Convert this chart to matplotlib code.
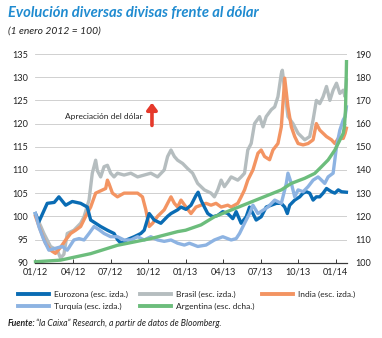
import matplotlib
matplotlib.use("Agg")
import matplotlib.pyplot as plt
from matplotlib.lines import Line2D

plt.rcParams["font.family"] = ["Lato", "DejaVu Sans"]

# meses desde 01/2012 (0 = 1 enero 2012)
eur_mes = [0, 0.27, 0.94, 1.5, 1.87, 2.41, 2.94, 3.61, 4.14, 4.41, 5.21, 5.75, 6.28, 6.55,
           6.82, 7.35, 7.89, 8.42, 8.69, 9.09, 9.49, 10.02, 10.56, 10.83, 11.36, 11.63,
           12.03, 12.43, 12.83, 13.0, 13.23, 13.5, 13.77, 14.17, 14.57, 14.97, 15.37,
           15.77, 16.04, 16.44, 16.84, 17.11, 17.38, 17.64, 18.04, 18.44, 18.85, 19.25,
           19.65, 19.92, 20.13, 20.32, 20.72, 21.12, 21.39, 21.65, 21.92, 22.19, 22.45,
           22.72, 22.99, 23.26, 23.66, 23.93, 24.2, 24.46, 24.85]
eurozona = [100.6, 98.8, 102.8, 103.0, 104.2, 102.4, 103.2, 102.8, 102.0, 99.2, 97.8, 97.0,
            96.3, 95.0, 94.2, 95.0, 95.6, 96.3, 97.0, 100.6, 99.2, 98.5, 100.0, 100.6, 101.4,
            102.0, 101.5, 102.4, 104.5, 105.2, 103.5, 102.0, 100.6, 99.9, 100.2, 101.0,
            100.6, 99.5, 101.0, 98.5, 99.9, 102.0, 100.6, 99.2, 99.9, 102.0, 102.4, 102.8,
            102.8, 102.0, 100.6, 102.4, 103.5, 104.2, 105.0, 105.3, 105.0, 103.5, 104.2,
            104.2, 105.0, 106.0, 105.3, 105.0, 105.7, 105.3, 105.2]

bra_mes = [0, 0.4, 0.67, 1.2, 1.74, 2.0, 2.27, 2.54, 3.07, 3.61, 3.88, 4.28, 4.54, 4.81,
           4.95, 5.21, 5.48, 5.75, 6.01, 6.28, 6.55, 7.08, 7.62, 8.16, 8.69, 9.22, 9.76,
           10.29, 10.56, 10.83, 11.1, 11.36, 11.76, 12.16, 12.56, 12.96, 13.23, 13.5, 14.03,
           14.3, 14.57, 14.84, 15.1, 15.37, 15.64, 16.17, 16.44, 16.71, 16.97, 17.24, 17.51,
           17.91, 18.18, 18.44, 18.85, 19.12, 19.38, 19.65, 19.73, 19.92, 20.18, 20.58,
           20.99, 21.52, 21.92, 22.19, 22.45, 22.72, 22.99, 23.26, 23.53, 23.79, 24.06,
           24.33, 24.6, 24.75, 24.85]
brasil = [100.3, 98.0, 96.3, 93.5, 92.7, 91.0, 91.8, 96.3, 97.0, 98.5, 99.9, 103.5, 109.3,
          112.1, 109.8, 108.5, 110.7, 111.0, 109.3, 108.5, 109.3, 108.9, 109.3, 108.5, 108.9,
          109.3, 108.5, 110.0, 112.9, 114.3, 112.9, 112.1, 111.4, 110.3, 109.3, 107.1, 106.4,
          105.7, 105.0, 104.2, 105.7, 107.8, 106.4, 107.4, 108.5, 107.8, 108.5, 109.3, 114.3,
          115.7, 120.0, 121.5, 119.3, 121.5, 123.0, 123.6, 125.8, 130.8, 131.5, 127.2, 121.5,
          120.0, 117.9, 116.5, 117.2, 120.8, 125.0, 124.3, 125.8, 128.0, 125.0, 127.2, 128.7,
          126.5, 127.2, 125.8, 129.4]

ind_mes = [0, 0.4, 0.8, 1.2, 1.6, 2.0, 2.41, 2.81, 3.21, 3.61, 4.01, 4.41, 4.81, 5.21, 5.61,
           5.75, 5.88, 6.15, 6.55, 7.08, 7.62, 8.16, 8.55, 8.82, 9.09, 9.36, 9.76, 10.29,
           10.83, 11.1, 11.36, 11.63, 12.03, 12.43, 12.83, 13.23, 13.63, 14.03, 14.43, 14.84,
           15.37, 15.64, 15.91, 16.17, 16.44, 16.71, 16.97, 17.38, 17.78, 18.04, 18.31, 18.71,
           18.98, 19.38, 19.65, 19.92, 20.18, 20.45, 20.72, 20.99, 21.39, 21.79, 22.19, 22.45,
           22.72, 22.99, 23.26, 23.66, 23.93, 24.2, 24.6, 24.75, 24.85]
india = [100.0, 97.0, 94.2, 92.7, 92.0, 93.3, 94.9, 96.3, 97.0, 97.8, 100.0, 102.0, 105.0,
         105.5, 106.0, 107.8, 107.0, 105.0, 104.2, 105.0, 105.0, 105.0, 104.2, 101.4, 97.8,
         98.5, 100.0, 101.4, 104.2, 102.8, 102.0, 103.5, 102.0, 100.6, 102.0, 102.4, 102.8,
         102.4, 102.8, 102.0, 102.4, 102.0, 102.4, 102.8, 104.2, 105.7, 107.8, 110.0, 113.6,
         114.3, 112.9, 112.2, 114.3, 115.7, 119.3, 129.8, 123.6, 119.3, 117.2, 115.7, 115.4,
         115.7, 116.5, 120.0, 118.6, 117.9, 117.2, 116.5, 115.7, 116.8, 116.8, 117.9, 119.0]

tur_mes = [0, 0.27, 0.67, 1.07, 1.6, 2.14, 2.54, 3.07, 3.48, 3.88, 4.28, 4.68, 5.08, 5.48,
           6.01, 6.55, 7.08, 7.62, 8.16, 8.69, 9.22, 9.76, 10.29, 10.83, 11.36, 11.9, 12.3,
           12.97, 13.63, 14.3, 14.97, 15.64, 16.04, 16.31, 16.71, 17.11, 17.38, 17.78, 18.18,
           18.58, 19.12, 19.65, 20.05, 20.18, 20.45, 20.72, 20.99, 21.39, 21.79, 22.19, 22.59,
           22.86, 23.12, 23.39, 23.79, 24.06, 24.33, 24.6, 24.75, 24.85]
turquia = [100.6, 97.8, 94.9, 92.7, 93.1, 93.5, 92.7, 94.9, 95.2, 94.9, 96.3, 97.8, 97.1,
           96.3, 95.6, 95.6, 94.9, 94.9, 95.6, 94.9, 95.6, 94.9, 94.6, 94.9, 94.2, 93.8, 94.2,
           93.5, 93.8, 94.9, 95.6, 94.9, 95.2, 96.3, 98.5, 100.6, 102.4, 100.6, 101.3, 102.0,
           103.5, 102.8, 107.1, 109.3, 107.1, 104.2, 105.7, 105.3, 106.4, 107.8, 108.5, 107.8,
           107.1, 108.5, 109.3, 115.0, 118.6, 120.8, 121.5, 123.6]

arg_mes = [0, 2.0, 4.41, 6.55, 9.22, 11.36, 12.0, 13.23, 14.3, 16.97, 18.31, 19.65, 20.45,
           21.52, 22.32, 22.86, 23.39, 23.93, 24.33, 24.6, 24.7, 24.78, 24.83, 24.86]
argentina = [100.4, 101.1, 103.9, 107.5, 110.4, 113.4, 114.0, 116.3, 119.8, 125.6, 128.5,
             131.4, 134.2, 136.4, 138.5, 141.4, 144.3, 148.6, 152.9, 155.8, 159.0, 166.0,
             178.0, 186.7]

x_ticks = [0, 3, 6, 9, 12, 15, 18, 21, 24]
x_labels = ["01/12", "04/12", "07/12", "10/12", "01/13", "04/13", "07/13", "10/13", "01/14"]
y_izq = [90, 95, 100, 105, 110, 115, 120, 125, 130, 135]
y_der = [100, 110, 120, 130, 140, 150, 160, 170, 180, 190]

nombres = ["Eurozona (esc. izda.)", "Brasil (esc. izda.)", "India (esc. izda.)",
           "Turquía (esc. izda.)", "Argentina (esc. dcha.)"]

c_eur = "#0a6cb4"
c_bra = "#b5bdbf"
c_ind = "#f39462"
c_tur = "#8db3e2"
c_arg = "#6cbd7c"
colores = [c_eur, c_bra, c_ind, c_tur, c_arg]
lw = 2.4

fig = plt.figure(figsize=(3.82, 3.38), dpi=100)
ax = fig.add_axes([0.0929, 0.2228, 0.8155, 0.6174])
ax2 = ax.twinx()

ax.set_ylim(90, 135)
ax2.set_ylim(100, 190)
ax.set_xlim(0, 24.9)
ax.set_yticks(y_izq)
ax2.set_yticks(y_der)
ax.set_xticks(x_ticks)
ax.set_xticklabels(x_labels)

for y in y_izq[1:]:
    ax.axhline(y, color="#c9c9c9", lw=0.6, zorder=0)

ax.plot(bra_mes, brasil, color=c_bra, lw=lw, clip_on=False)
ax.plot(ind_mes, india, color=c_ind, lw=lw, clip_on=False)
ax.plot(eur_mes, eurozona, color=c_eur, lw=lw, clip_on=False)
ax.plot(tur_mes, turquia, color=c_tur, lw=lw, clip_on=False)
ax2.plot(arg_mes, argentina, color=c_arg, lw=lw, clip_on=False)

for a in (ax, ax2):
    for s in ("top", "left", "right"):
        a.spines[s].set_visible(False)
    a.spines["bottom"].set_color("#3a3a3a")
    a.spines["bottom"].set_linewidth(0.8)
ax.tick_params(axis="x", direction="in", length=3, width=0.7, color="#3a3a3a",
               pad=3.5, labelsize=6.6, labelcolor="#222222")
ax.tick_params(axis="y", length=0, pad=5.2, labelsize=6.6, labelcolor="#222222")
ax2.tick_params(axis="y", length=0, pad=5.8, labelsize=6.6, labelcolor="#222222")

ax.text(5.5, 121.6, "Apreciación del dólar", fontsize=6.0, ha="center", va="center",
        color="#222222")
ax.annotate("", xy=(9.31, 124.5), xytext=(9.31, 119.6),
            arrowprops=dict(arrowstyle="-|>,head_width=0.3,head_length=0.4",
                            color="#e5392b", lw=2.6, shrinkA=0, shrinkB=0))

fig.text(8 / 382, 1 - 13 / 338, "Evolución diversas divisas frente al dólar",
         fontsize=10.6, fontweight="bold", fontstyle="italic", color="#1f8bd0",
         va="center", ha="left")
fig.text(8 / 382, 1 - 31 / 338, "(1 enero 2012 = 100)", fontsize=7.4,
         fontstyle="italic", color="#222222", va="center", ha="left")

# leyenda a mano: (x inicio de la muestra, y) en píxeles
pos_leyenda = [(18, 294), (140, 294), (262, 294), (18, 306), (140, 306)]
for (px, py), nombre, col in zip(pos_leyenda, nombres, colores):
    yf = 1 - py / 338
    fig.add_artist(Line2D([px / 382, (px + 31) / 382], [yf, yf], color=col, lw=2.8))
    fig.text((px + 36) / 382, yf, nombre, fontsize=6.0, color="#222222",
             va="center", ha="left")

fig.text(8 / 382, 1 - 323 / 338, "Fuente:", fontsize=6.2, fontweight="bold",
         fontstyle="italic", color="#222222", va="center", ha="left")
fig.text(36 / 382, 1 - 323 / 338, "“la Caixa” Research, a partir de datos de Bloomberg.",
         fontsize=6.2, fontstyle="italic", color="#222222", va="center", ha="left")

fig.savefig("out.png", dpi=100)
